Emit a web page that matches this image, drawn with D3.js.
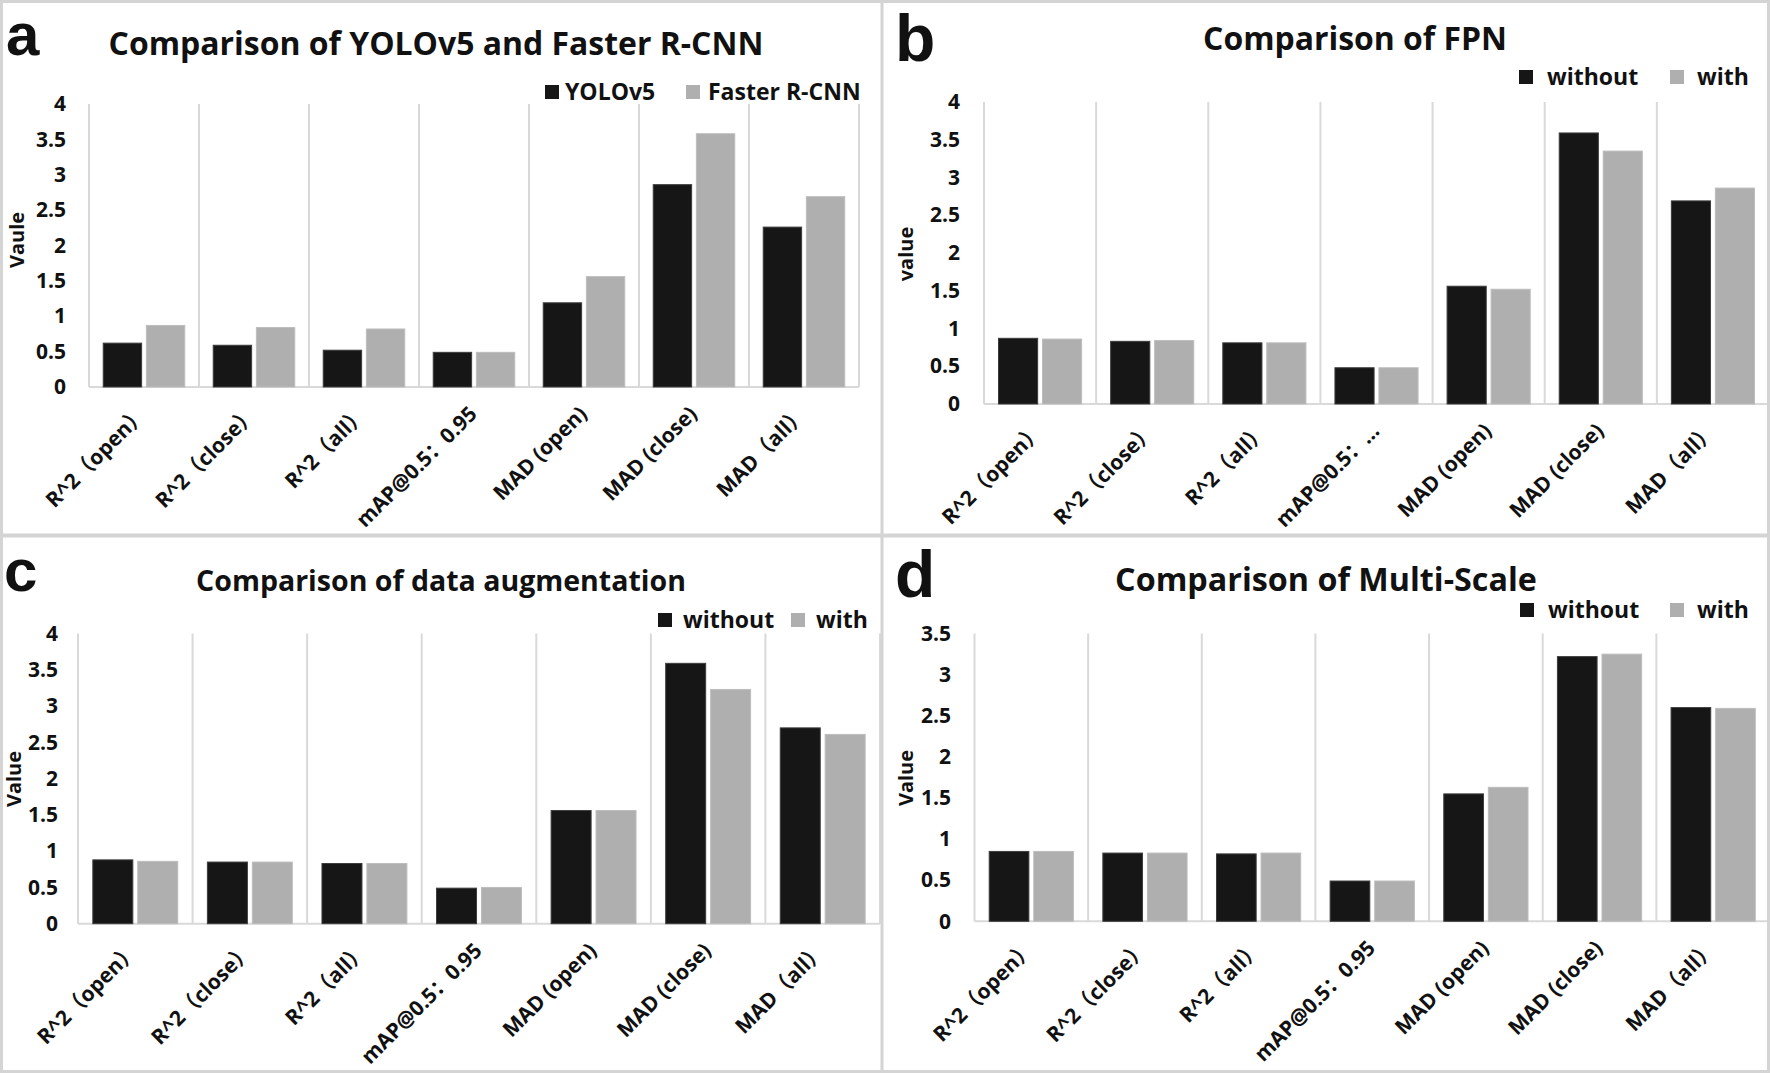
<!DOCTYPE html>
<html>
<head>
<meta charset="utf-8">
<script src="https://cdn.jsdelivr.net/npm/d3@7"></script>
<style>
  html, body { margin: 0; padding: 0; background: #fff; }
  svg { display: block; }
  text { font-family: "Open Sans", "Noto Sans CJK SC", sans-serif; font-weight: 700; fill: #111; }
</style>
</head>
<body>
<svg id="chart" width="1770" height="1073"></svg>
<script>
// ---------- DATA ----------
const categoriesFull = ["R^2（open）", "R^2（close）", "R^2（all）", "mAP@0.5：0.95", "MAD (open)", "MAD (close)", "MAD（all）"];
const categoriesFPN  = ["R^2（open）", "R^2（close）", "R^2（all）", "mAP@0.5：…", "MAD (open)", "MAD (close)", "MAD（all）"];

const seriesA = ["YOLOv5", "Faster R-CNN"];
const seriesWith = ["without", "with"];

const yoloV5     = [0.62, 0.59, 0.52, 0.49, 1.19, 2.86, 2.26];
const fasterRCNN = [0.87, 0.84, 0.82, 0.49, 1.56, 3.58, 2.69];

const fpnWithout = [0.87, 0.83, 0.81, 0.48, 1.56, 3.59, 2.69];
const fpnWith    = [0.86, 0.84, 0.81, 0.48, 1.52, 3.35, 2.86];

const augWithout = [0.88, 0.85, 0.83, 0.49, 1.56, 3.59, 2.70];
const augWith    = [0.86, 0.85, 0.83, 0.50, 1.56, 3.23, 2.61];

const msWithout  = [0.85, 0.83, 0.82, 0.49, 1.55, 3.22, 2.60];
const msWith     = [0.85, 0.83, 0.83, 0.49, 1.63, 3.25, 2.59];

const ticks4  = [0, 0.5, 1, 1.5, 2, 2.5, 3, 3.5, 4];
const ticks35 = [0, 0.5, 1, 1.5, 2, 2.5, 3, 3.5];

const panels = [
  { letter: "a", title: "Comparison of YOLOv5 and Faster R-CNN", yTitle: "Vaule",
    categories: categoriesFull, series: seriesA, values: [yoloV5, fasterRCNN], ticks: ticks4,
    layout: { x0: 89, x1: 859, yTop: 104, yBase: 387, letterX: 6, letterY: 55, letterSize: 60,
              titleX: 436, titleY: 55, titleW: 655, yTitleX: 24, yTitleY: 240, tickX: 66,
              legend: [{sq: 545, tx: 565}, {sq: 686, tx: 708}], legendY: 92 } },
  { letter: "b", title: "Comparison of FPN", yTitle: "value",
    categories: categoriesFPN, series: seriesWith, values: [fpnWithout, fpnWith], ticks: ticks4,
    layout: { x0: 984, x1: 1769, yTop: 102, yBase: 404, letterX: 895, letterY: 61, letterSize: 66,
              titleX: 1355, titleY: 50, titleW: 304, yTitleX: 913, yTitleY: 254, tickX: 960,
              legend: [{sq: 1519, tx: 1547}, {sq: 1670, tx: 1697}], legendY: 77 } },
  { letter: "c", title: "Comparison of data augmentation", yTitle: "Value",
    categories: categoriesFull, series: seriesWith, values: [augWithout, augWith], ticks: ticks4,
    layout: { x0: 78, x1: 880, yTop: 633.6, yBase: 923.7, letterX: 4, letterY: 591, letterSize: 60,
              titleX: 441, titleY: 591, titleW: 490, yTitleX: 21, yTitleY: 779, tickX: 58,
              legend: [{sq: 658, tx: 683}, {sq: 791, tx: 816}], legendY: 620 } },
  { letter: "d", title: "Comparison of Multi-Scale", yTitle: "Value",
    categories: categoriesFull, series: seriesWith, values: [msWithout, msWith], ticks: ticks35,
    layout: { x0: 974.5, x1: 1770, yTop: 633.6, yBase: 921.3, letterX: 895, letterY: 597, letterSize: 66,
              titleX: 1326, titleY: 591, titleW: 422, yTitleX: 913, yTitleY: 778, tickX: 951,
              legend: [{sq: 1520, tx: 1548}, {sq: 1670, tx: 1697}], legendY: 610 } }
];

const colors = ["#161616", "#afafaf"];
const gridColor = "#d9d9d9";

const svg = d3.select("#chart");
svg.append("rect").attr("width", 1770).attr("height", 1073).attr("fill", "#fff");

panels.forEach(p => {
  const L = p.layout;
  const g = svg.append("g");
  const yMax = p.ticks[p.ticks.length - 1];
  const y = d3.scaleLinear().domain([0, yMax]).range([L.yBase, L.yTop]);
  const x = d3.scaleBand().domain(p.categories).range([L.x0, L.x1]).paddingInner(0).paddingOuter(0);
  const xs = d3.scaleBand().domain(p.series).range([0, x.bandwidth()]).paddingInner(0.11).paddingOuter(0.33);

  // vertical category gridlines (including both edges)
  const bounds = p.categories.map(c => x(c)).concat([L.x1]);
  g.selectAll(".vgrid").data(bounds).join("line")
    .attr("x1", d => d).attr("x2", d => d)
    .attr("y1", L.yTop).attr("y2", L.yBase)
    .attr("stroke", gridColor).attr("stroke-width", 2);

  // baseline
  g.append("line").attr("x1", L.x0).attr("x2", L.x1)
    .attr("y1", L.yBase).attr("y2", L.yBase)
    .attr("stroke", gridColor).attr("stroke-width", 2);

  // bars
  p.series.forEach((s, si) => {
    g.selectAll(".bar" + si).data(p.values[si]).join("rect")
      .attr("x", (d, i) => x(p.categories[i]) + xs(s))
      .attr("width", xs.bandwidth())
      .attr("y", d => y(d))
      .attr("height", d => y(0) - y(d))
      .attr("fill", colors[si])
      .attr("stroke", si === 0 ? "#3c3c3c" : "#bdbdbd").attr("stroke-width", 1);
  });

  // y axis tick labels
  const yAxis = d3.axisLeft(y).tickValues(p.ticks).tickSize(0).tickPadding(0)
    .tickFormat(d => String(d));
  const ya = g.append("g").attr("transform", `translate(${L.tickX},0)`).call(yAxis);
  ya.select(".domain").remove();
  ya.selectAll("text").attr("font-size", 21).attr("fill", "#1a1a1a")
    .style("font-family", '"Open Sans", sans-serif').style("font-weight", 700);

  // x axis labels rotated
  const xAxis = d3.axisBottom(x).tickSize(0).tickPadding(0);
  const xa = g.append("g").attr("transform", `translate(0,${L.yBase})`).call(xAxis);
  xa.select(".domain").remove();
  xa.selectAll("text")
    .attr("font-size", 21).attr("fill", "#1a1a1a")
    .style("font-family", '"Open Sans", "Noto Sans CJK SC", sans-serif').style("font-weight", 700)
    .attr("text-anchor", "end")
    .attr("y", 0).attr("dy", "0.35em")
    .attr("transform", "translate(-1,23) rotate(-45)");

  // titles, fitted to the reference width
  const t = g.append("text").attr("x", L.titleX).attr("y", L.titleY)
    .attr("text-anchor", "middle").attr("font-size", 31).text(p.title);
  const w = t.node().getComputedTextLength();
  if (w > 0) t.attr("font-size", 31 * L.titleW / w);

  // panel letter
  g.append("text").attr("x", L.letterX).attr("y", L.letterY)
    .attr("font-size", L.letterSize)
    .style("font-family", '"Liberation Sans", Arial, sans-serif').style("font-weight", 700)
    .attr("fill", "#000").text(p.letter);

  // y axis title
  g.append("text")
    .attr("transform", `translate(${L.yTitleX},${L.yTitleY}) rotate(-90)`)
    .attr("text-anchor", "middle").attr("font-size", 20).text(p.yTitle);

  // legend
  p.series.forEach((s, si) => {
    const le = L.legend[si];
    g.append("rect").attr("x", le.sq).attr("y", L.legendY - 7).attr("width", 14).attr("height", 14)
      .attr("fill", colors[si]);
    g.append("text").attr("x", le.tx).attr("y", L.legendY).attr("dy", "0.35em")
      .attr("font-size", 23).text(s);
  });
});

// panel borders
const bc = "#d4d4d4";
svg.append("rect").attr("x", 1.5).attr("y", 1.5).attr("width", 1767).attr("height", 1070)
  .attr("fill", "none").attr("stroke", bc).attr("stroke-width", 3);
svg.append("line").attr("x1", 882).attr("x2", 882).attr("y1", 0).attr("y2", 1073)
  .attr("stroke", bc).attr("stroke-width", 3);
svg.append("line").attr("x1", 0).attr("x2", 1770).attr("y1", 535.5).attr("y2", 535.5)
  .attr("stroke", bc).attr("stroke-width", 4);
</script>
</body>
</html>
